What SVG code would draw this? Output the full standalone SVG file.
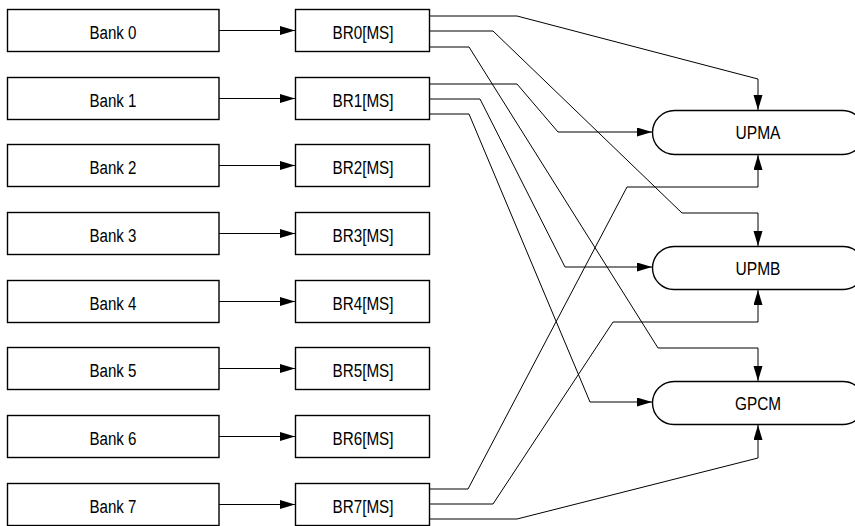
<svg xmlns="http://www.w3.org/2000/svg" width="855" height="526" viewBox="0 0 855 526">
<style>
.box{fill:#fff;stroke:#000;stroke-width:1.4}
.lbl{font-family:"Liberation Sans",Arial,sans-serif;font-size:18px;fill:#000;text-anchor:middle}
.c{fill:none;stroke:#000;stroke-width:1;marker-end:url(#ah)}
</style>
<defs>
<marker id="ah" markerUnits="userSpaceOnUse" markerWidth="16" markerHeight="10" refX="15" refY="4.5" orient="auto">
<path d="M0,0 L15,4.5 L0,9 z" fill="#000"/>
</marker>
</defs>
<rect width="855" height="526" fill="#fff"/>
<g id="connectors">
<path class="c" d="M219,30.5 H295"/>
<path class="c" d="M219,98.5 H295"/>
<path class="c" d="M219,165.5 H295"/>
<path class="c" d="M219,233.5 H295"/>
<path class="c" d="M219,301.5 H295"/>
<path class="c" d="M219,368.5 H295"/>
<path class="c" d="M219,436.5 H295"/>
<path class="c" d="M219,504.5 H295"/>
<path class="c" d="M430,16 H517 L758,79 V110"/>
<path class="c" d="M430,31 H493 L682,213 H758 V246"/>
<path class="c" d="M430,47 H469 L658,348 H758 V381"/>
<path class="c" d="M430,84 H517 L558,132 H652"/>
<path class="c" d="M430,99 H480 L565,267 H652"/>
<path class="c" d="M430,114 H469 L590,402 H652"/>
<path class="c" d="M430,489 H468 L627,187 H758 V155"/>
<path class="c" d="M430,504 H493 L613,322 H758 V290"/>
<path class="c" d="M430,519 H517 L758,458 V425"/>
</g>
<g id="bank0"><rect class="box" x="7.5" y="9.5" width="211.5" height="42"/><text class="lbl" x="113" y="38.5" textLength="47" lengthAdjust="spacingAndGlyphs">Bank 0</text></g>
<g id="bank1"><rect class="box" x="7.5" y="77.5" width="211.5" height="42"/><text class="lbl" x="113" y="106.5" textLength="47" lengthAdjust="spacingAndGlyphs">Bank 1</text></g>
<g id="bank2"><rect class="box" x="7.5" y="144.5" width="211.5" height="42"/><text class="lbl" x="113" y="173.5" textLength="47" lengthAdjust="spacingAndGlyphs">Bank 2</text></g>
<g id="bank3"><rect class="box" x="7.5" y="212.5" width="211.5" height="42"/><text class="lbl" x="113" y="241.5" textLength="47" lengthAdjust="spacingAndGlyphs">Bank 3</text></g>
<g id="bank4"><rect class="box" x="7.5" y="280.5" width="211.5" height="42"/><text class="lbl" x="113" y="309.5" textLength="47" lengthAdjust="spacingAndGlyphs">Bank 4</text></g>
<g id="bank5"><rect class="box" x="7.5" y="347.5" width="211.5" height="42"/><text class="lbl" x="113" y="376.5" textLength="47" lengthAdjust="spacingAndGlyphs">Bank 5</text></g>
<g id="bank6"><rect class="box" x="7.5" y="415.5" width="211.5" height="42"/><text class="lbl" x="113" y="444.5" textLength="47" lengthAdjust="spacingAndGlyphs">Bank 6</text></g>
<g id="bank7"><rect class="box" x="7.5" y="483.5" width="211.5" height="42"/><text class="lbl" x="113" y="512.5" textLength="47" lengthAdjust="spacingAndGlyphs">Bank 7</text></g>
<g id="br0"><rect class="box" x="295.5" y="9.5" width="134" height="42"/><text class="lbl" x="363" y="38.5" textLength="61" lengthAdjust="spacingAndGlyphs">BR0[MS]</text></g>
<g id="br1"><rect class="box" x="295.5" y="77.5" width="134" height="42"/><text class="lbl" x="363" y="106.5" textLength="61" lengthAdjust="spacingAndGlyphs">BR1[MS]</text></g>
<g id="br2"><rect class="box" x="295.5" y="144.5" width="134" height="42"/><text class="lbl" x="363" y="173.5" textLength="61" lengthAdjust="spacingAndGlyphs">BR2[MS]</text></g>
<g id="br3"><rect class="box" x="295.5" y="212.5" width="134" height="42"/><text class="lbl" x="363" y="241.5" textLength="61" lengthAdjust="spacingAndGlyphs">BR3[MS]</text></g>
<g id="br4"><rect class="box" x="295.5" y="280.5" width="134" height="42"/><text class="lbl" x="363" y="309.5" textLength="61" lengthAdjust="spacingAndGlyphs">BR4[MS]</text></g>
<g id="br5"><rect class="box" x="295.5" y="347.5" width="134" height="42"/><text class="lbl" x="363" y="376.5" textLength="61" lengthAdjust="spacingAndGlyphs">BR5[MS]</text></g>
<g id="br6"><rect class="box" x="295.5" y="415.5" width="134" height="42"/><text class="lbl" x="363" y="444.5" textLength="61" lengthAdjust="spacingAndGlyphs">BR6[MS]</text></g>
<g id="br7"><rect class="box" x="295.5" y="483.5" width="134" height="42"/><text class="lbl" x="363" y="512.5" textLength="61" lengthAdjust="spacingAndGlyphs">BR7[MS]</text></g>
<g id="upma"><rect class="box" x="652.5" y="110.5" width="212" height="44" rx="22" ry="22"/><text class="lbl" x="758" y="139" textLength="45" lengthAdjust="spacingAndGlyphs">UPMA</text></g>
<g id="upmb"><rect class="box" x="652.5" y="246.5" width="212" height="43" rx="21.5" ry="21.5"/><text class="lbl" x="758" y="274.5" textLength="45" lengthAdjust="spacingAndGlyphs">UPMB</text></g>
<g id="gpcm"><rect class="box" x="652.5" y="381.5" width="212" height="43" rx="21.5" ry="21.5"/><text class="lbl" x="758" y="409.5" textLength="46" lengthAdjust="spacingAndGlyphs">GPCM</text></g>
</svg>
